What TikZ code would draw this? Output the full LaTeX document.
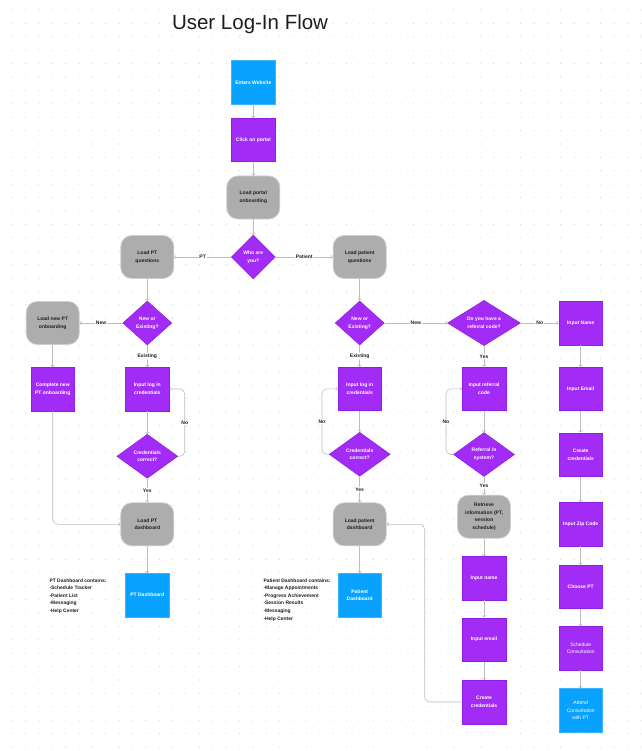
\documentclass[tikz,border=0pt]{standalone}
\usepackage{fontspec}
\setmainfont{Liberation Sans}
\usetikzlibrary{shapes.geometric,arrows.meta,calc}
\definecolor{purp}{HTML}{A22CF5}
\definecolor{purpb}{HTML}{8E1FE0}
\definecolor{bluef}{HTML}{0AA2FF}
\definecolor{blueb}{HTML}{38B4FF}
\definecolor{grayf}{HTML}{ADADAD}
\definecolor{grayb}{HTML}{CFCFCF}
\definecolor{linec}{HTML}{BDBDBD}
\definecolor{dotc}{HTML}{CFCFCF}
\definecolor{txt}{HTML}{1E1E1E}
\begin{document}
\begin{tikzpicture}[x=1pt,y=-1pt,
 nodefont/.style={font=\fontsize{5}{7.7}\selectfont\bfseries},
 regfont/.style={font=\fontsize{5}{7.7}\selectfont},
 pbox/.style={rectangle, fill=purp, draw=purpb, line width=0.5pt, minimum width=43.5pt, minimum height=43.5pt, inner sep=1pt, text=white, align=center, nodefont},
 bbox/.style={pbox, fill=bluef, draw=blueb},
 gbox/.style={rectangle, rounded corners=11pt, fill=grayf, draw=grayb, line width=0.8pt, minimum width=53pt, minimum height=43pt, inner sep=1pt, text=txt, align=center, nodefont},
 dia/.style={diamond, fill=purp, draw=purpb, line width=0.5pt, inner sep=0pt, text=white, align=center, nodefont},
 conn/.style={draw=linec, line width=0.6pt, -{Straight Barb[length=1.6pt,width=3.6pt]}, rounded corners=5pt},
 lab/.style={fill=white, inner sep=1pt, text=txt, font=\fontsize{5}{6}\selectfont\bfseries},
 note/.style={anchor=north west, align=left, inner sep=0pt, text=txt, font=\fontsize{4.95}{7.6}\selectfont\bfseries},
]
\fill[white] (0,0) rectangle (641,751);
\useasboundingbox (0,0) rectangle (641,751);
\foreach \i in {0,...,47} {
  \foreach \j in {0,...,55} {
    \fill[dotc] (12.3+13.37*\i,10+13.4*\j) circle (0.55pt);
  }
}
\node[anchor=base west, inner sep=0pt, text=txt, font=\fontsize{20.5}{24}\selectfont] (title) at (171.8,29.5) {User Log-In Flow};

% top column
\node[bbox] (ew) at (253.3,82.5) {Enters Website};
\node[pbox] (cp) at (253.3,140) {Click on portal};
\node[gbox] (lpo) at (253.3,197.5) {Load portal\\onboarding};
\node[dia, minimum width=44pt, minimum height=44pt] (who) at (253.3,257) {Who are\\you?};

% PT side
\node[gbox] (lptq) at (147.3,257) {Load PT\\questions};
\node[dia, minimum width=49pt, minimum height=44pt] (ne1) at (147.3,323) {New or\\Existing?};
\node[gbox] (lnpo) at (52.7,323) {Load new PT\\onboarding};
\node[pbox] (cnpo) at (52.7,389) {Complete new\\PT onboarding};
\node[pbox] (il1) at (147.3,389) {Input log in\\credentials};
\node[dia, minimum width=61pt, minimum height=44pt] (cc1) at (147.3,456.3) {Credentials\\correct?};
\node[gbox] (lptd) at (147.3,524.3) {Load PT\\dashboard};
\node[bbox] (ptd) at (147.3,595.2) {PT Dashboard};
\node[note] (ptdc) at (49.3,578.3) {PT Dashboard contains:\\-Schedule Tracker\\-Patient List\\-Messaging\\-Help Center};

% Patient side
\node[gbox] (lpq) at (359.7,257) {Load patient\\questions};
\node[dia, minimum width=49pt, minimum height=44pt] (ne2) at (359.7,323) {New or\\Existing?};
\node[pbox] (il2) at (359.7,388.8) {Input log in\\credentials};
\node[dia, minimum width=61pt, minimum height=44pt] (cc2) at (359.7,454.3) {Credentials\\correct?};
\node[gbox] (lpd) at (359.7,524.3) {Load patient\\dashboard};
\node[bbox] (pd) at (359.7,595.2) {Patient\\Dashboard};
\node[note] (pdc) at (263.3,578.3) {Patient Dashboard contains:\\-Manage Appointments\\-Progress Achievement\\-Session Results\\-Messaging\\-Help Center};

% referral column
\node[dia, minimum width=73pt, minimum height=44pt] (ref) at (484,323) {Do you have a\\referral code?};
\node[pbox] (irc) at (484,388.8) {Input referral\\code};
\node[dia, minimum width=61pt, minimum height=44pt] (ris) at (484,454.5) {Referral in\\system?};
\node[gbox] (ri) at (484,516.7) {Retrieve\\information (PT,\\session\\schedule)};
\node[pbox] (in2) at (484,578.2) {Input name};
\node[pbox] (ie2) at (484,639.5) {Input email};
\node[pbox] (cr2) at (484,702) {Create\\credentials};

% right column
\node[pbox] (in1) at (580.7,323) {Input Name};
\node[pbox] (ie1) at (580.7,388.8) {Input Email};
\node[pbox] (cr1) at (580.7,454.5) {Create\\credentials};
\node[pbox] (izc) at (580.7,524.3) {Input Zip Code};
\node[pbox] (cpt) at (580.7,586.7) {Choose PT};
\node[pbox, regfont] (sc) at (580.7,648.3) {Schedule\\Consultation};
\node[bbox, regfont] (acp) at (580.7,710.3) {Attend\\Consultation\\with PT};

% connectors
\draw[conn] (ew) -- (cp);
\draw[conn] (cp) -- (lpo);
\draw[conn] (lpo) -- (who);
\draw[conn] (who) -- node[lab]{PT} (lptq);
\draw[conn] (who) -- node[lab]{Patient} (lpq);
\draw[conn] (lptq) -- (ne1);
\draw[conn] (ne1) -- node[lab]{New} (lnpo);
\draw[conn] (ne1) -- node[lab]{Existing} (il1);
\draw[conn] (lnpo) -- (cnpo);
\draw[conn] (cnpo.south) |- (lptd.west);
\draw[conn] (il1) -- (cc1);
\draw[conn] (cc1.east) -- ++(6.7,0) |- node[lab,pos=0.25]{No} (il1.east);
\draw[conn] (cc1) -- node[lab]{Yes} (lptd);
\draw[conn] (lptd) -- (ptd);

\draw[conn] (lpq) -- (ne2);
\draw[conn] (ne2) -- node[lab]{New} (ref);
\draw[conn] (ne2) -- node[lab]{Existing} (il2);
\draw[conn] (il2) -- (cc2);
\draw[conn] (cc2.west) -- ++(-7,0) |- node[lab,pos=0.25]{No} (il2.west);
\draw[conn] (cc2) -- node[lab]{Yes} (lpd);
\draw[conn] (lpd) -- (pd);

\draw[conn] (ref) -- node[lab]{No} (in1);
\draw[conn] (ref) -- node[lab]{Yes} (irc);
\draw[conn] (irc) -- (ris);
\draw[conn] (ris.west) -- ++(-7.3,0) |- node[lab,pos=0.25]{No} (irc.west);
\draw[conn] (ris) -- node[lab]{Yes} (ri);
\draw[conn] (ri) -- (in2);
\draw[conn] (in2) -- (ie2);
\draw[conn] (ie2) -- (cr2);
\draw[conn] (cr2.west) -- ++(-37.3,0) |- (lpd.east);

\draw[conn] (in1) -- (ie1);
\draw[conn] (ie1) -- (cr1);
\draw[conn] (cr1) -- (izc);
\draw[conn] (izc) -- (cpt);
\draw[conn] (cpt) -- (sc);
\draw[conn] (sc) -- (acp);
\end{tikzpicture}
\end{document}
